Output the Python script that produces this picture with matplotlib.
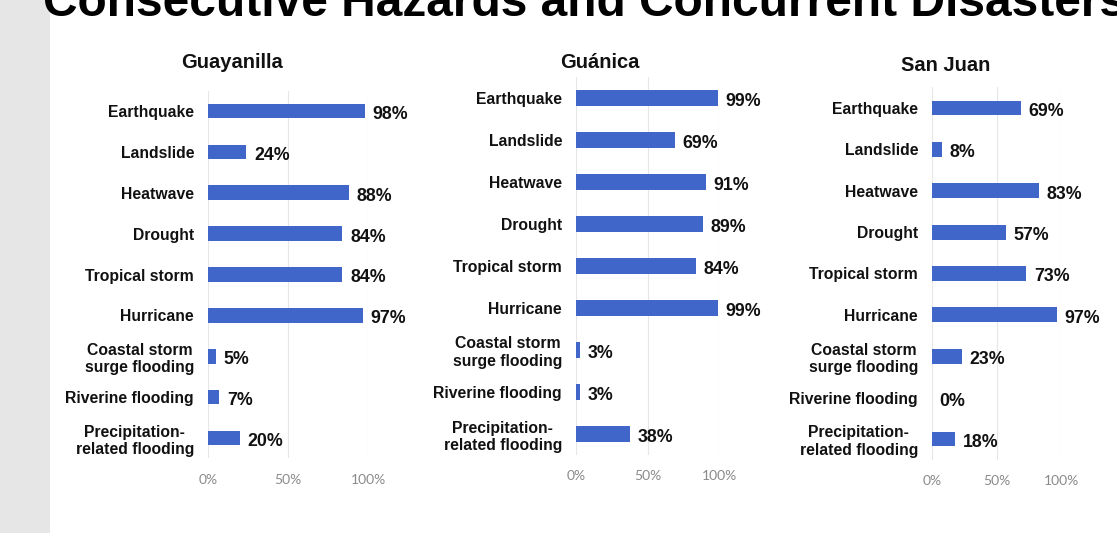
import matplotlib
matplotlib.use("Agg")
import matplotlib.pyplot as plt
from matplotlib.patches import Rectangle

# hazard categories, top to bottom
hazards = ["Earthquake", "Landslide", "Heatwave", "Drought", "Tropical storm",
           "Hurricane", "Coastal storm\nsurge flooding", "Riverine flooding",
           "Precipitation-\nrelated flooding"]

# share of respondents per municipality (%)
guayanilla = [98, 24, 88, 84, 84, 97, 5, 7, 20]
guanica = [99, 69, 91, 89, 84, 99, 3, 3, 38]
san_juan = [69, 8, 83, 57, 73, 97, 23, 0, 18]

panel_titles = ["Guayanilla", "Guánica", "San Juan"]
x_ticks = [0, 50, 100]
x_ticklabels = ["0%", "50%", "100%"]

W, H = 1117, 533
BAR_COLOR = "#3F66C8"
MAIN_FONT = ["Liberation Sans", "DejaVu Sans"]
NARROW_FONT = ["Liberation Sans Narrow", "Liberation Sans", "DejaVu Sans"]

fig = plt.figure(figsize=(W / 100, H / 100), dpi=100)
fig.patch.set_facecolor("white")

# grey strip down the left edge
fig.patches.append(Rectangle((0, 0), 50 / W, 1, transform=fig.transFigure,
                             facecolor="#e6e6e6", edgecolor="none", zorder=0))

# slide heading, running off the top edge
fig.text(43 / W, 1 - 16 / H, "Consecutive Hazards and Concurrent Disasters",
         family=MAIN_FONT, weight="bold", fontsize=34.5, color="black",
         ha="left", va="baseline")


def px_axes(x0, x100, y_first, y_last):
    # axes placed so that 0..100 spans x0..x100 px and the rows are centred on y_first..y_last
    step = (y_last - y_first) / (len(hazards) - 1)
    top = y_first - step / 2
    bottom = y_last + step / 2
    return fig.add_axes([x0 / W, 1 - bottom / H, (x100 - x0) / W, (bottom - top) / H])


layout = [
    # x of 0%, x of 100%, first row y, last row y, title x, title y
    (208, 368, 111, 438, 232, 62),
    (576, 719, 98, 434, 600, 63),
    (932, 1061, 108, 439, 946, 66),
]
series = [guayanilla, guanica, san_juan]

for (x0, x100, yf, yl, tx, ty), values, title in zip(layout, series, panel_titles):
    ax = px_axes(x0, x100, yf, yl)
    ax.set_facecolor("none")
    pos = list(range(len(hazards)))
    ax.barh(pos, values, height=0.36, color=BAR_COLOR, zorder=2)
    ax.set_xlim(0, 100)
    ax.set_ylim(len(hazards) - 0.5, -0.5)

    ax.set_yticks(pos)
    ax.set_yticklabels(hazards, family=MAIN_FONT, weight="bold", fontsize=11.3,
                       color="#111111", linespacing=1.2, multialignment="center")
    ax.set_xticks(x_ticks)
    ax.set_xticklabels(x_ticklabels, family=["Lato", "DejaVu Sans"], fontsize=10,
                       color="#8a8a8a")
    ax.tick_params(axis="y", length=0, pad=10)
    ax.tick_params(axis="x", length=0, pad=11)

    for s in ax.spines.values():
        s.set_visible(False)
    ax.grid(axis="x", color="#e6e6e6", linewidth=0.8, zorder=0)
    ax.grid(axis="y", visible=False)

    for p, v in zip(pos, values):
        ax.annotate(f"{v}%", xy=(v, p), xytext=(5.5, -2.5), textcoords="offset points",
                    family=MAIN_FONT, weight="bold", fontsize=12.8, color="#111111",
                    ha="left", va="center", annotation_clip=False)

    fig.text(tx / W, 1 - ty / H, title, family=NARROW_FONT, weight="bold",
             fontsize=14.5, color="#111111", ha="center", va="center")

fig.savefig("out.png", dpi=100)
